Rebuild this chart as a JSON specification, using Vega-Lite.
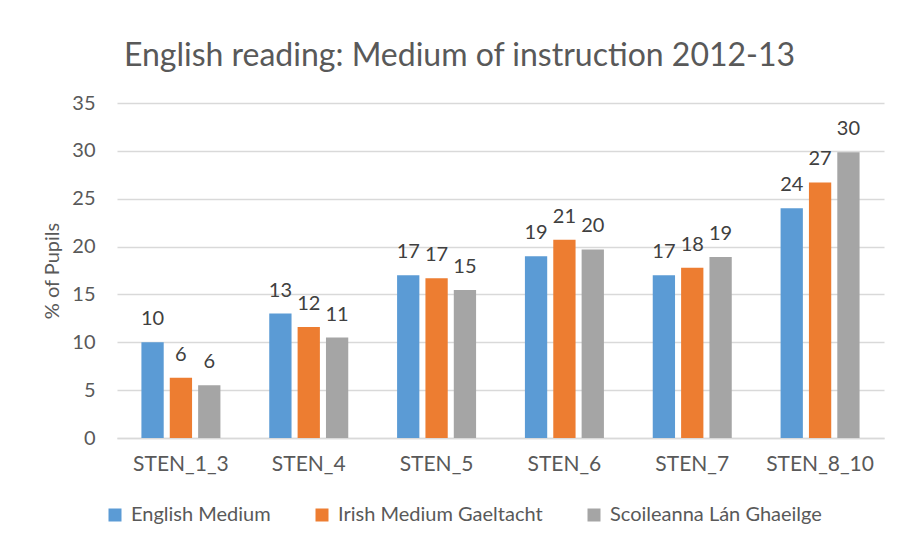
{
  "$schema": "https://vega.github.io/schema/vega-lite/v6.json",
  "width": 767,
  "height": 335,
  "autosize": {"type": "none"},
  "padding": {"left": 117, "top": 103, "right": 18, "bottom": 112},
  "background": "white",
  "title": {
    "text": "English reading: Medium of instruction 2012-13",
    "font": "Lato",
    "fontSize": 32,
    "fontWeight": "normal",
    "color": "#595959",
    "anchor": "middle",
    "frame": "group",
    "dx": -41,
    "offset": 20
  },
  "data": {
    "values": [
      {"sten": "STEN_1_3", "medium": "English Medium", "pct": 10.0},
      {"sten": "STEN_1_3", "medium": "Irish Medium Gaeltacht", "pct": 6.3},
      {"sten": "STEN_1_3", "medium": "Scoileanna Lán Ghaeilge", "pct": 5.5},
      {"sten": "STEN_4", "medium": "English Medium", "pct": 13.0},
      {"sten": "STEN_4", "medium": "Irish Medium Gaeltacht", "pct": 11.6},
      {"sten": "STEN_4", "medium": "Scoileanna Lán Ghaeilge", "pct": 10.5},
      {"sten": "STEN_5", "medium": "English Medium", "pct": 17.0},
      {"sten": "STEN_5", "medium": "Irish Medium Gaeltacht", "pct": 16.7},
      {"sten": "STEN_5", "medium": "Scoileanna Lán Ghaeilge", "pct": 15.45},
      {"sten": "STEN_6", "medium": "English Medium", "pct": 19.0},
      {"sten": "STEN_6", "medium": "Irish Medium Gaeltacht", "pct": 20.7},
      {"sten": "STEN_6", "medium": "Scoileanna Lán Ghaeilge", "pct": 19.7},
      {"sten": "STEN_7", "medium": "English Medium", "pct": 17.0},
      {"sten": "STEN_7", "medium": "Irish Medium Gaeltacht", "pct": 17.8},
      {"sten": "STEN_7", "medium": "Scoileanna Lán Ghaeilge", "pct": 18.9},
      {"sten": "STEN_8_10", "medium": "English Medium", "pct": 24.0},
      {"sten": "STEN_8_10", "medium": "Irish Medium Gaeltacht", "pct": 26.7},
      {"sten": "STEN_8_10", "medium": "Scoileanna Lán Ghaeilge", "pct": 29.85}
    ]
  },
  "encoding": {
    "x": {
      "field": "sten",
      "type": "nominal",
      "sort": ["STEN_1_3", "STEN_4", "STEN_5", "STEN_6", "STEN_7", "STEN_8_10"],
      "scale": {"paddingInner": 0.382, "paddingOuter": 0.191},
      "axis": {
        "title": null,
        "labelAngle": 0,
        "ticks": false,
        "domain": true,
        "domainColor": "#D9D9D9",
        "domainWidth": 1.5,
        "grid": false,
        "labelPadding": 15,
        "labelFont": "Lato",
        "labelFontSize": 21,
        "labelColor": "#595959"
      }
    },
    "xOffset": {
      "field": "medium",
      "type": "nominal",
      "sort": ["English Medium", "Irish Medium Gaeltacht", "Scoileanna Lán Ghaeilge"],
      "scale": {"paddingInner": 0.214, "paddingOuter": 0}
    },
    "y": {
      "field": "pct",
      "type": "quantitative",
      "scale": {"domain": [0, 35], "nice": false},
      "axis": {
        "title": "% of Pupils",
        "values": [0, 5, 10, 15, 20, 25, 30, 35],
        "grid": true,
        "gridColor": "#D9D9D9",
        "gridWidth": 1.5,
        "domain": false,
        "ticks": false,
        "labelPadding": 22,
        "labelFont": "Lato",
        "labelFontSize": 20,
        "labelColor": "#595959",
        "titleFont": "Lato",
        "titleFontSize": 20,
        "titleFontWeight": "normal",
        "titleColor": "#595959",
        "titlePadding": 9
      }
    }
  },
  "layer": [
    {
      "mark": {"type": "bar"},
      "encoding": {
        "color": {
          "field": "medium",
          "type": "nominal",
          "sort": ["English Medium", "Irish Medium Gaeltacht", "Scoileanna Lán Ghaeilge"],
          "scale": {
            "domain": ["English Medium", "Irish Medium Gaeltacht", "Scoileanna Lán Ghaeilge"],
            "range": ["#5B9BD5", "#ED7D31", "#A5A5A5"]
          },
          "legend": {
            "title": null,
            "orient": "none",
            "legendX": -12,
            "legendY": 402,
            "direction": "horizontal",
            "symbolType": "square",
            "symbolSize": 169,
            "symbolStrokeWidth": 0,
            "labelFont": "Lato",
            "labelFontSize": 20,
            "labelColor": "#595959",
            "labelLimit": 0,
            "labelOffset": 6,
            "columnPadding": 41
          }
        }
      }
    },
    {
      "mark": {
        "type": "text",
        "baseline": "alphabetic",
        "dy": -17,
        "font": "Lato",
        "fontSize": 20,
        "color": "#404040"
      },
      "encoding": {
        "text": {"field": "pct", "type": "quantitative", "format": ".0f"}
      }
    }
  ],
  "config": {
    "view": {"stroke": null}
  }
}
